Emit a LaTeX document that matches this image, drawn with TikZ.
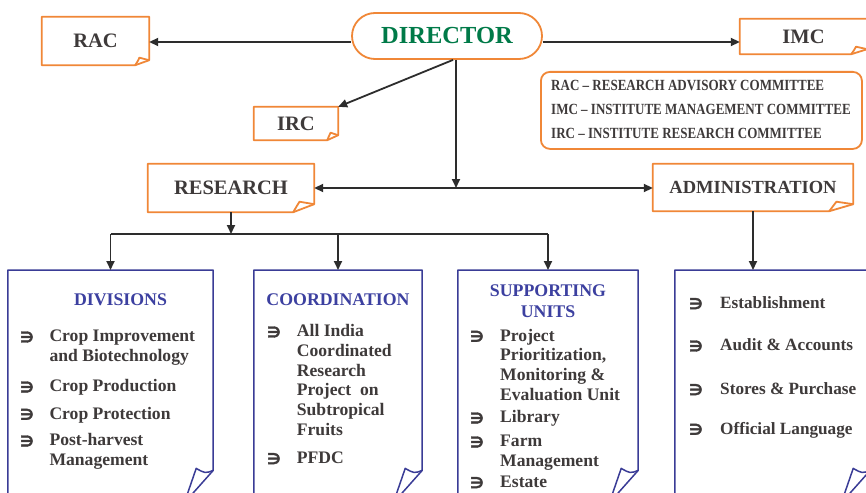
\documentclass[tikz,border=0pt]{standalone}
\usepackage{fontspec}
\setmainfont{Liberation Serif}
\newfontfamily\symfont[FakeBold=2.5]{DejaVu Sans}
\newfontfamily\legfont[FakeStretch=0.84]{Liberation Serif}
\usetikzlibrary{arrows.meta}
\definecolor{orng}{RGB}{240,135,55}
\definecolor{navy}{RGB}{58,60,150}
\definecolor{ttlblue}{RGB}{60,64,160}
\definecolor{dgreen}{RGB}{0,122,72}
\definecolor{dtext}{RGB}{62,58,58}
\definecolor{arr}{RGB}{45,45,45}
\tikzset{
  oframe/.style={draw=orng, line width=1.8pt, line join=round},
  bframe/.style={draw=navy, line width=1.5pt, line join=round},
  holder/.style={draw=none, inner sep=0pt, text=dtext, font=\fontsize{20.5}{24}\selectfont\bfseries},
  conn/.style={draw=arr, line width=1.8pt, -{Triangle[length=9pt,width=8pt]}},
  conntwo/.style={draw=arr, line width=1.8pt, {Triangle[length=9pt,width=8pt]}-{Triangle[length=9pt,width=8pt]}},
  plainline/.style={draw=arr, line width=1.8pt},
  ttl/.style={inner sep=0pt, text=ttlblue, font=\fontsize{17.8}{21}\selectfont\bfseries, anchor=base},
  item/.style={inner sep=0pt, text=dtext, font=\fontsize{17.6}{19.7}\selectfont\bfseries, anchor=base west, align=left},
  aitem/.style={inner sep=0pt, text=dtext, font=\fontsize{17.2}{19.7}\selectfont\bfseries, anchor=base west, align=left},
  bul/.style={inner sep=0pt, text=dtext, font=\symfont\fontsize{15}{15}\selectfont\bfseries},
  leg/.style={inner sep=0pt, text=dtext, font=\legfont\fontsize{15.5}{18}\selectfont\bfseries, anchor=base west}
}
\newcommand\ofold[4]{%
  \draw[#2] (#1.north west) -- (#1.north east) -- ([yshift=#4]#1.south east) -- ([xshift=-#3]#1.south east) -- (#1.south west) -- cycle;
  \draw[#2] ([xshift=-#3]#1.south east) .. controls ([xshift={-0.8*#3},yshift={0.9*#4}]#1.south east) .. ([xshift={-0.7*#3},yshift={#4+2.5}]#1.south east) -- ([yshift=#4]#1.south east);}
\newcommand\bfold[1]{%
  \draw[bframe] (#1.north west) -- (#1.north east) -- ([yshift=27]#1.south east) -- ([xshift=-24]#1.south east) -- (#1.south west) -- cycle;
  \draw[bframe] ([yshift=27]#1.south east) .. controls ([xshift=-8,yshift=24]#1.south east) .. ([xshift=-17,yshift=29]#1.south east) -- ([xshift=-27]#1.south east);}
\begin{document}
\begin{tikzpicture}[x=1pt,y=-1pt]
\useasboundingbox (0,0) rectangle (866,492);
\clip (0,0) rectangle (866,492);
\fill[white] (0,0) rectangle (866,492);

% top level
\node[draw=orng, line width=1.8pt, rounded corners=23pt, minimum width=190pt, minimum height=46pt, inner sep=0pt,
      text=dgreen, font=\fontsize{24.5}{28}\selectfont\bfseries] (dir) at (447,36) {DIRECTOR};
\node[holder, minimum width=107pt, minimum height=48pt] (rac) at (95.5,41) {RAC};
\ofold{rac}{oframe}{14}{5}
\node[holder, minimum width=127pt, minimum height=35pt] (imc) at (803.5,36.5) {IMC};
\ofold{imc}{oframe}{16}{5}
\node[holder, minimum width=84pt, minimum height=33pt] (irc) at (296,123.5) {IRC};
\ofold{irc}{oframe}{11}{5}

% legend
\node[draw=orng, line width=1.8pt, rounded corners=9pt, minimum width=321pt, minimum height=77pt, inner sep=0pt, anchor=north west] (legend) at (540,71) {};
\node[leg] (leg1) at (551,91) {RAC – RESEARCH ADVISORY COMMITTEE};
\node[leg] (leg2) at (551,114.3) {IMC – INSTITUTE MANAGEMENT COMMITTEE};
\node[leg] (leg3) at (551,138) {IRC – INSTITUTE RESEARCH COMMITTEE};

% second level
\node[holder, minimum width=166pt, minimum height=48pt] (research) at (231,188) {RESEARCH};
\ofold{research}{oframe}{21}{8}
\node[holder, minimum width=200pt, minimum height=47pt, font=\fontsize{18.5}{22}\selectfont\bfseries] (admin) at (753,187.5) {ADMINISTRATION};
\ofold{admin}{oframe}{24}{7}

% bottom boxes
\node[draw=none, minimum width=205pt, minimum height=227pt, anchor=north, inner sep=0pt] (divbox) at (110.5,270) {};
\node[draw=none, minimum width=168pt, minimum height=227pt, anchor=north, inner sep=0pt] (coobox) at (338,270) {};
\node[draw=none, minimum width=180pt, minimum height=227pt, anchor=north, inner sep=0pt] (supbox) at (548,270) {};
\node[draw=none, minimum width=195pt, minimum height=227pt, anchor=north, inner sep=0pt] (admbox) at (772.5,270) {};
\bfold{divbox}
\bfold{coobox}
\bfold{supbox}
\bfold{admbox}

% connectors
\draw[conn] ([yshift=-6pt]dir.west) -- ([yshift=-6pt]dir.west -| rac.east);
\draw[conn] ([yshift=-6pt]dir.east) -- ([yshift=-6pt]dir.east -| imc.west);
\draw[conn] ([xshift=6pt]dir.south) -- (irc.north east);
\coordinate (junc) at (456,188);
\draw[conn] ([xshift=9pt]dir.south) -- (junc);
\draw[conntwo] (research.east) -- (admin.west |- research.east);
\coordinate (rj) at (231,234);
\draw[conn] (research.south) -- (rj);
\draw[plainline] (divbox.north |- rj) -- (supbox.north |- rj);
\draw[conn] (divbox.north |- rj) -- (divbox.north);
\draw[conn] (coobox.north |- rj) -- (coobox.north);
\draw[conn] (supbox.north |- rj) -- (supbox.north);
\draw[conn] (admin.south) -- (admin.south |- admbox.north);

% DIVISIONS (multi-line nodes: base = last line)
\node[ttl] (divt) at (120.5,305) {DIVISIONS};
\node[item] (d1) at (49.3,361.4) {Crop Improvement\\and Biotechnology};
\node[item] (d2) at (49.3,391.7) {Crop Production};
\node[item] (d3) at (49.3,419) {Crop Protection};
\node[item] (d4) at (49.3,465.4) {Post-harvest\\Management};
\node[bul] (bd1) at (27,337) {∋};
\node[bul] (bd2) at (27,387) {∋};
\node[bul] (bd3) at (27,414.3) {∋};
\node[bul] (bd4) at (27,441) {∋};

% COORDINATION
\node[ttl] (coot) at (338,305) {COORDINATION};
\node[item] (c1) at (296.7,435.2) {All India\\Coordinated\\Research\\Project~ on\\Subtropical\\Fruits};
\node[item] (c2) at (296.7,463.3) {PFDC};
\node[bul] (bc1) at (274,332) {∋};
\node[bul] (bc2) at (274,458.6) {∋};

% SUPPORTING UNITS
\node[ttl, align=center] (supt) at (548,317) {SUPPORTING\\UNITS};
\node[item] (s1) at (500,400.1) {Project\\Prioritization,\\Monitoring \&\\Evaluation Unit};
\node[item] (s2) at (500,422.7) {Library};
\node[item] (s3) at (500,466.4) {Farm\\Management};
\node[item] (s4) at (500,487.3) {Estate};
\node[bul] (bs1) at (477,336.3) {∋};
\node[bul] (bs2) at (477,418) {∋};
\node[bul] (bs3) at (477,442) {∋};
\node[bul] (bs4) at (477,482.6) {∋};

% ADMINISTRATION list
\node[aitem] (a1) at (720,308.3) {Establishment};
\node[aitem] (a2) at (720,350.7) {Audit \& Accounts};
\node[aitem] (a3) at (720,394.3) {Stores \& Purchase};
\node[aitem] (a4) at (720,434) {Official Language};
\node[bul] (ba1) at (696,303.6) {∋};
\node[bul] (ba2) at (696,346) {∋};
\node[bul] (ba3) at (696,389.6) {∋};
\node[bul] (ba4) at (696,429.3) {∋};
\end{tikzpicture}
\end{document}
